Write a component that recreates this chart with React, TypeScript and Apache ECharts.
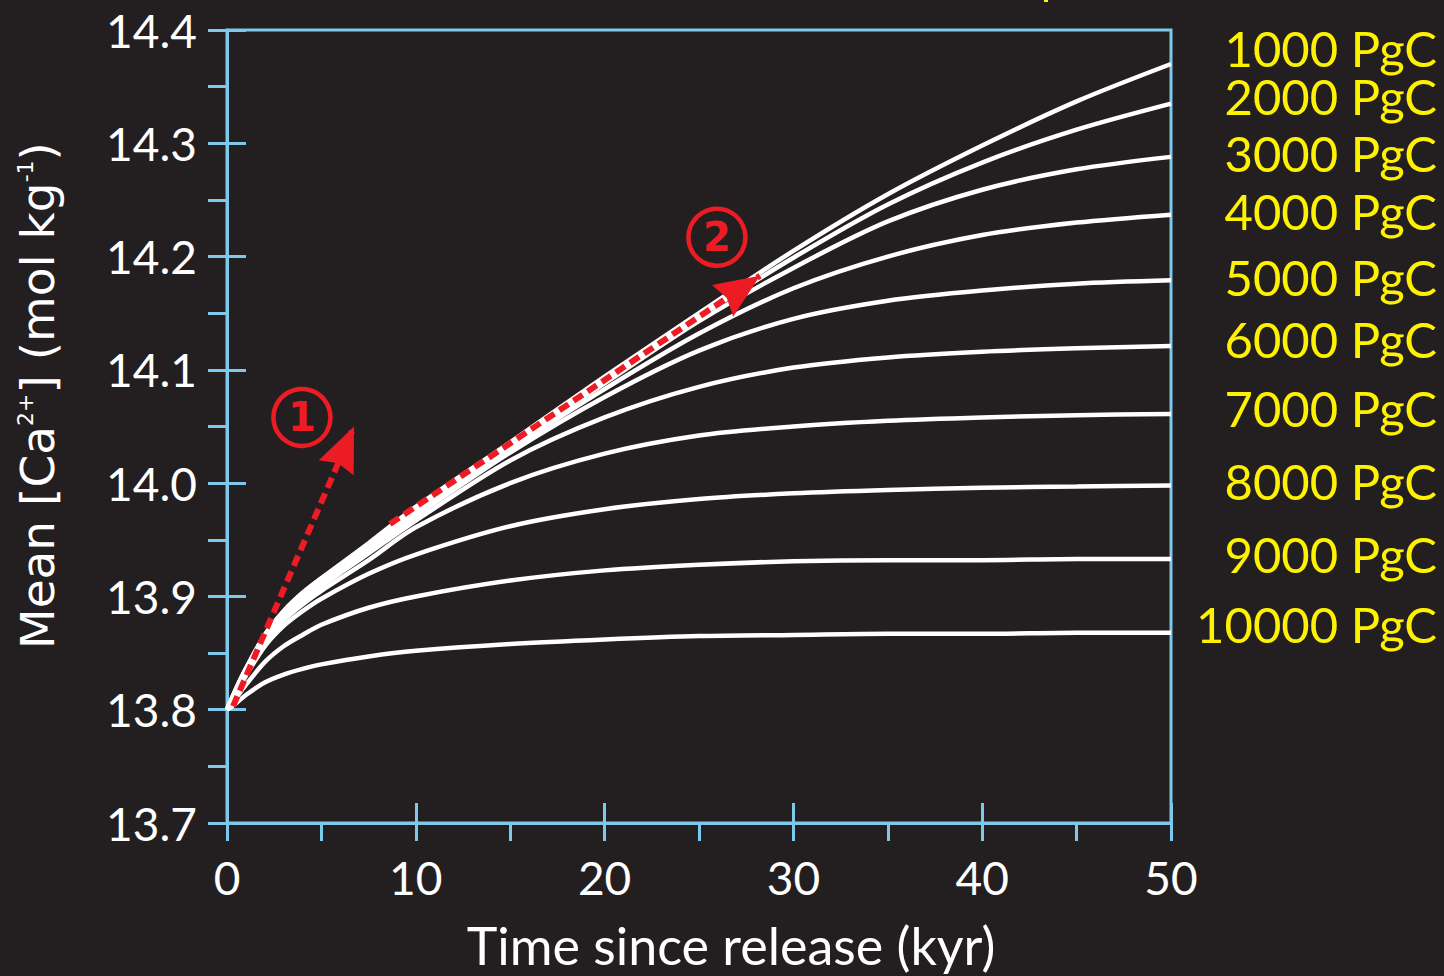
import React, { useEffect, useRef } from "react";
import * as echarts from "echarts";

// Time axis (kyr since release) shared by every run
const times = [0, 0.5, 1, 2, 3, 4, 5, 7.5, 10, 15, 20, 25, 30, 35, 40, 45, 50];

// Mean ocean [Ca2+] for each carbon release size
const ca1000 = [13.800, 13.819, 13.836, 13.866, 13.887, 13.903, 13.916, 13.947, 13.979, 14.036, 14.094, 14.150, 14.205, 14.255, 14.298, 14.337, 14.370];
const ca2000 = [13.800, 13.819, 13.836, 13.866, 13.887, 13.903, 13.916, 13.946, 13.978, 14.035, 14.092, 14.147, 14.199, 14.246, 14.283, 14.312, 14.335];
const ca3000 = [13.800, 13.819, 13.836, 13.865, 13.886, 13.902, 13.915, 13.945, 13.976, 14.033, 14.088, 14.143, 14.190, 14.231, 14.259, 14.277, 14.288];
const ca4000 = [13.800, 13.818, 13.835, 13.864, 13.885, 13.900, 13.913, 13.943, 13.974, 14.030, 14.083, 14.132, 14.172, 14.200, 14.219, 14.230, 14.237];
const ca5000 = [13.800, 13.818, 13.835, 13.863, 13.883, 13.898, 13.911, 13.941, 13.971, 14.027, 14.076, 14.117, 14.145, 14.161, 14.170, 14.176, 14.179];
const ca6000 = [13.800, 13.818, 13.834, 13.862, 13.881, 13.896, 13.909, 13.938, 13.967, 14.020, 14.058, 14.085, 14.102, 14.111, 14.116, 14.119, 14.121];
const ca7000 = [13.800, 13.817, 13.833, 13.860, 13.879, 13.893, 13.905, 13.932, 13.961, 14.000, 14.026, 14.042, 14.050, 14.055, 14.058, 14.060, 14.061];
const ca8000 = [13.800, 13.815, 13.830, 13.856, 13.874, 13.887, 13.898, 13.920, 13.937, 13.962, 13.977, 13.986, 13.991, 13.994, 13.996, 13.997, 13.998];
const ca9000 = [13.800, 13.811, 13.822, 13.842, 13.856, 13.866, 13.875, 13.890, 13.900, 13.914, 13.923, 13.928, 13.931, 13.932, 13.932, 13.933, 13.933];
const ca10000 = [13.800, 13.806, 13.813, 13.824, 13.831, 13.836, 13.840, 13.847, 13.852, 13.858, 13.862, 13.865, 13.866, 13.867, 13.867, 13.868, 13.868];

const releases = ["1000 PgC", "2000 PgC", "3000 PgC", "4000 PgC", "5000 PgC", "6000 PgC", "7000 PgC", "8000 PgC", "9000 PgC", "10000 PgC"];
const caRuns = [ca1000, ca2000, ca3000, ca4000, ca5000, ca6000, ca7000, ca8000, ca9000, ca10000];

// Release labels are spread slightly where the curve ends crowd together (px)
const labelNudge = [-16, -8, -4, -4, -3, -7, -6, -4, -5, -9];

// Annotation arrows (data coordinates: start, arrow tip)
const arrowOne = [[0.32, 13.803], [6.73, 14.050]];
const arrowTwo = [[8.63, 13.964], [28.23, 14.183]];
// Numbered circles marking the two phases
const phaseMarks = [[3.97, 14.058], [25.95, 14.217]];
const phaseNames = ["1", "2"];

const BG = "#231f20";
const AXIS = "#7ec8eb";
const RED = "#ed1c24";
const YELLOW = "#fff200";
const FONT = "Lato, 'Noto Sans', sans-serif";
const WIDE_FONT = "'DejaVu Sans', sans-serif";

// Arrow-head geometry in pixels
const HEAD_LEN = 45;
const HEAD_HALF_WIDTH = 19;
const HEAD_NOTCH = 40;

export default function App() {
  const ref = useRef<HTMLDivElement>(null);

  useEffect(() => {
    if (!ref.current) return;
    const chart = echarts.init(ref.current, null, { renderer: "svg" });

    const axisLine = { show: true, lineStyle: { color: AXIS, width: 3 } };
    const tickStyle = { color: AXIS, width: 3 };

    const curveSeries = caRuns.map((vals, i) => ({
      name: releases[i],
      type: "line",
      xAxisIndex: 0,
      yAxisIndex: 0,
      data: times.map((t, k) => [t, vals[k]]),
      showSymbol: false,
      symbol: "none",
      smooth: 0.3,
      lineStyle: { color: "#ffffff", width: 4.5 },
      silent: true,
      z: 2,
    }));

    const arrowSeries = [arrowOne, arrowTwo].map((coords) => ({
      type: "lines",
      coordinateSystem: "cartesian2d",
      xAxisIndex: 0,
      yAxisIndex: 0,
      data: [{ coords }],
      symbol: ["none", "none"],
      lineStyle: { color: RED, width: 6, type: [11, 6], opacity: 1, curveness: 0 },
      silent: true,
      z: 5,
    }));

    const option: any = {
      animation: false,
      backgroundColor: BG,
      grid: {
        left: 227,
        top: 30,
        right: 273,
        bottom: 151,
        show: true,
        borderColor: AXIS,
        borderWidth: 3,
        backgroundColor: "transparent",
      },
      xAxis: [
        {
          type: "value",
          min: 0,
          max: 50,
          interval: 10,
          position: "bottom",
          axisLine,
          axisTick: { show: true, inside: false, length: 18, lineStyle: tickStyle },
          minorTick: { show: true, splitNumber: 2, length: 18, lineStyle: tickStyle },
          splitLine: { show: false },
          axisLabel: { color: "#ffffff", fontSize: 46, fontFamily: FONT, margin: 31 },
          name: "Time since release (kyr)",
          nameLocation: "middle",
          nameGap: 96,
          nameTextStyle: { color: "#ffffff", fontSize: 52, fontFamily: FONT, padding: [0, 0, 0, 64] },
        },
        {
          type: "value",
          min: 0,
          max: 50,
          interval: 10,
          position: "bottom",
          axisLine: { show: false },
          axisTick: { show: true, inside: true, length: 20, lineStyle: tickStyle },
          axisLabel: { show: false },
          splitLine: { show: false },
        },
      ],
      yAxis: [
        {
          type: "value",
          min: 13.7,
          max: 14.4,
          interval: 0.1,
          position: "left",
          axisLine,
          axisTick: { show: true, inside: false, length: 19, lineStyle: tickStyle },
          minorTick: { show: true, splitNumber: 2, length: 19, lineStyle: tickStyle },
          splitLine: { show: false },
          axisLabel: {
            color: "#ffffff",
            fontSize: 46,
            fontFamily: FONT,
            margin: 30,
            formatter: (v: number) => v.toFixed(1),
          },
          name: "{a|Mean [Ca}{s|2+}{a|] (mol kg}{s|-1}{a|)}",
          nameLocation: "middle",
          nameRotate: 90,
          nameGap: 166,
          nameTextStyle: {
            color: "#ffffff",
            fontSize: 47,
            fontFamily: WIDE_FONT,
            padding: [0, 0, 0, 62],
            rich: {
              a: { color: "#ffffff", fontSize: 47, fontFamily: WIDE_FONT },
              s: { color: "#ffffff", fontSize: 22, fontFamily: WIDE_FONT, verticalAlign: "top" },
            },
          },
        },
        {
          type: "value",
          min: 13.7,
          max: 14.4,
          interval: 0.1,
          position: "left",
          axisLine: { show: false },
          axisTick: { show: true, inside: true, length: 19, lineStyle: tickStyle },
          axisLabel: { show: false },
          splitLine: { show: false },
        },
      ],
      series: [
        ...curveSeries,
        ...arrowSeries,
        {
          type: "scatter",
          xAxisIndex: 0,
          yAxisIndex: 0,
          data: phaseMarks,
          symbol: "circle",
          symbolSize: 57,
          itemStyle: { color: "rgba(0,0,0,0)", borderColor: RED, borderWidth: 4.5, opacity: 1 },
          label: {
            show: true,
            position: "inside",
            formatter: (p: any) => phaseNames[p.dataIndex],
            color: RED,
            fontSize: 40,
            fontWeight: "bold",
            fontFamily: WIDE_FONT,
          },
          silent: true,
          z: 6,
        },
      ],
    };

    chart.setOption(option);

    const toPx = (p: number[]) => chart.convertToPixel({ gridIndex: 0 }, p) as number[];

    // Notched arrow heads at the end of each dashed arrow
    const heads = [arrowOne, arrowTwo].map((coords) => {
      const [sx, sy] = toPx(coords[0]);
      const [tx, ty] = toPx(coords[1]);
      const len = Math.hypot(tx - sx, ty - sy);
      const dx = (tx - sx) / len;
      const dy = (ty - sy) / len;
      const nx = -dy;
      const ny = dx;
      const bx = tx - HEAD_LEN * dx;
      const by = ty - HEAD_LEN * dy;
      return {
        type: "polygon",
        z: 100,
        silent: true,
        shape: {
          points: [
            [tx, ty],
            [bx + HEAD_HALF_WIDTH * nx, by + HEAD_HALF_WIDTH * ny],
            [tx - HEAD_NOTCH * dx, ty - HEAD_NOTCH * dy],
            [bx - HEAD_HALF_WIDTH * nx, by - HEAD_HALF_WIDTH * ny],
          ],
        },
        style: { fill: RED },
      };
    });

    // Release-size labels to the right of each curve's end
    const labels = caRuns.map((vals, i) => {
      const [px, py] = toPx([50, vals[vals.length - 1]]);
      return {
        type: "text",
        x: px + 266,
        y: py + labelNudge[i],
        silent: true,
        style: {
          text: releases[i],
          fill: YELLOW,
          fontSize: 49,
          fontFamily: FONT,
          lineHeight: 44,
          textAlign: "right",
          align: "right",
          textVerticalAlign: "middle",
          verticalAlign: "middle",
        },
      };
    });

    chart.setOption({
      graphic: [
        ...heads,
        ...labels,
        // clipped yellow glyph at the top edge
        { type: "rect", shape: { x: 1044, y: 0, width: 4, height: 2 }, style: { fill: YELLOW }, silent: true },
      ],
    });

    return () => chart.dispose();
  }, []);

  return (
    <div
      ref={ref}
      style={{ position: "fixed", left: 0, top: 0, width: 1444, height: 976 }}
    />
  );
}
